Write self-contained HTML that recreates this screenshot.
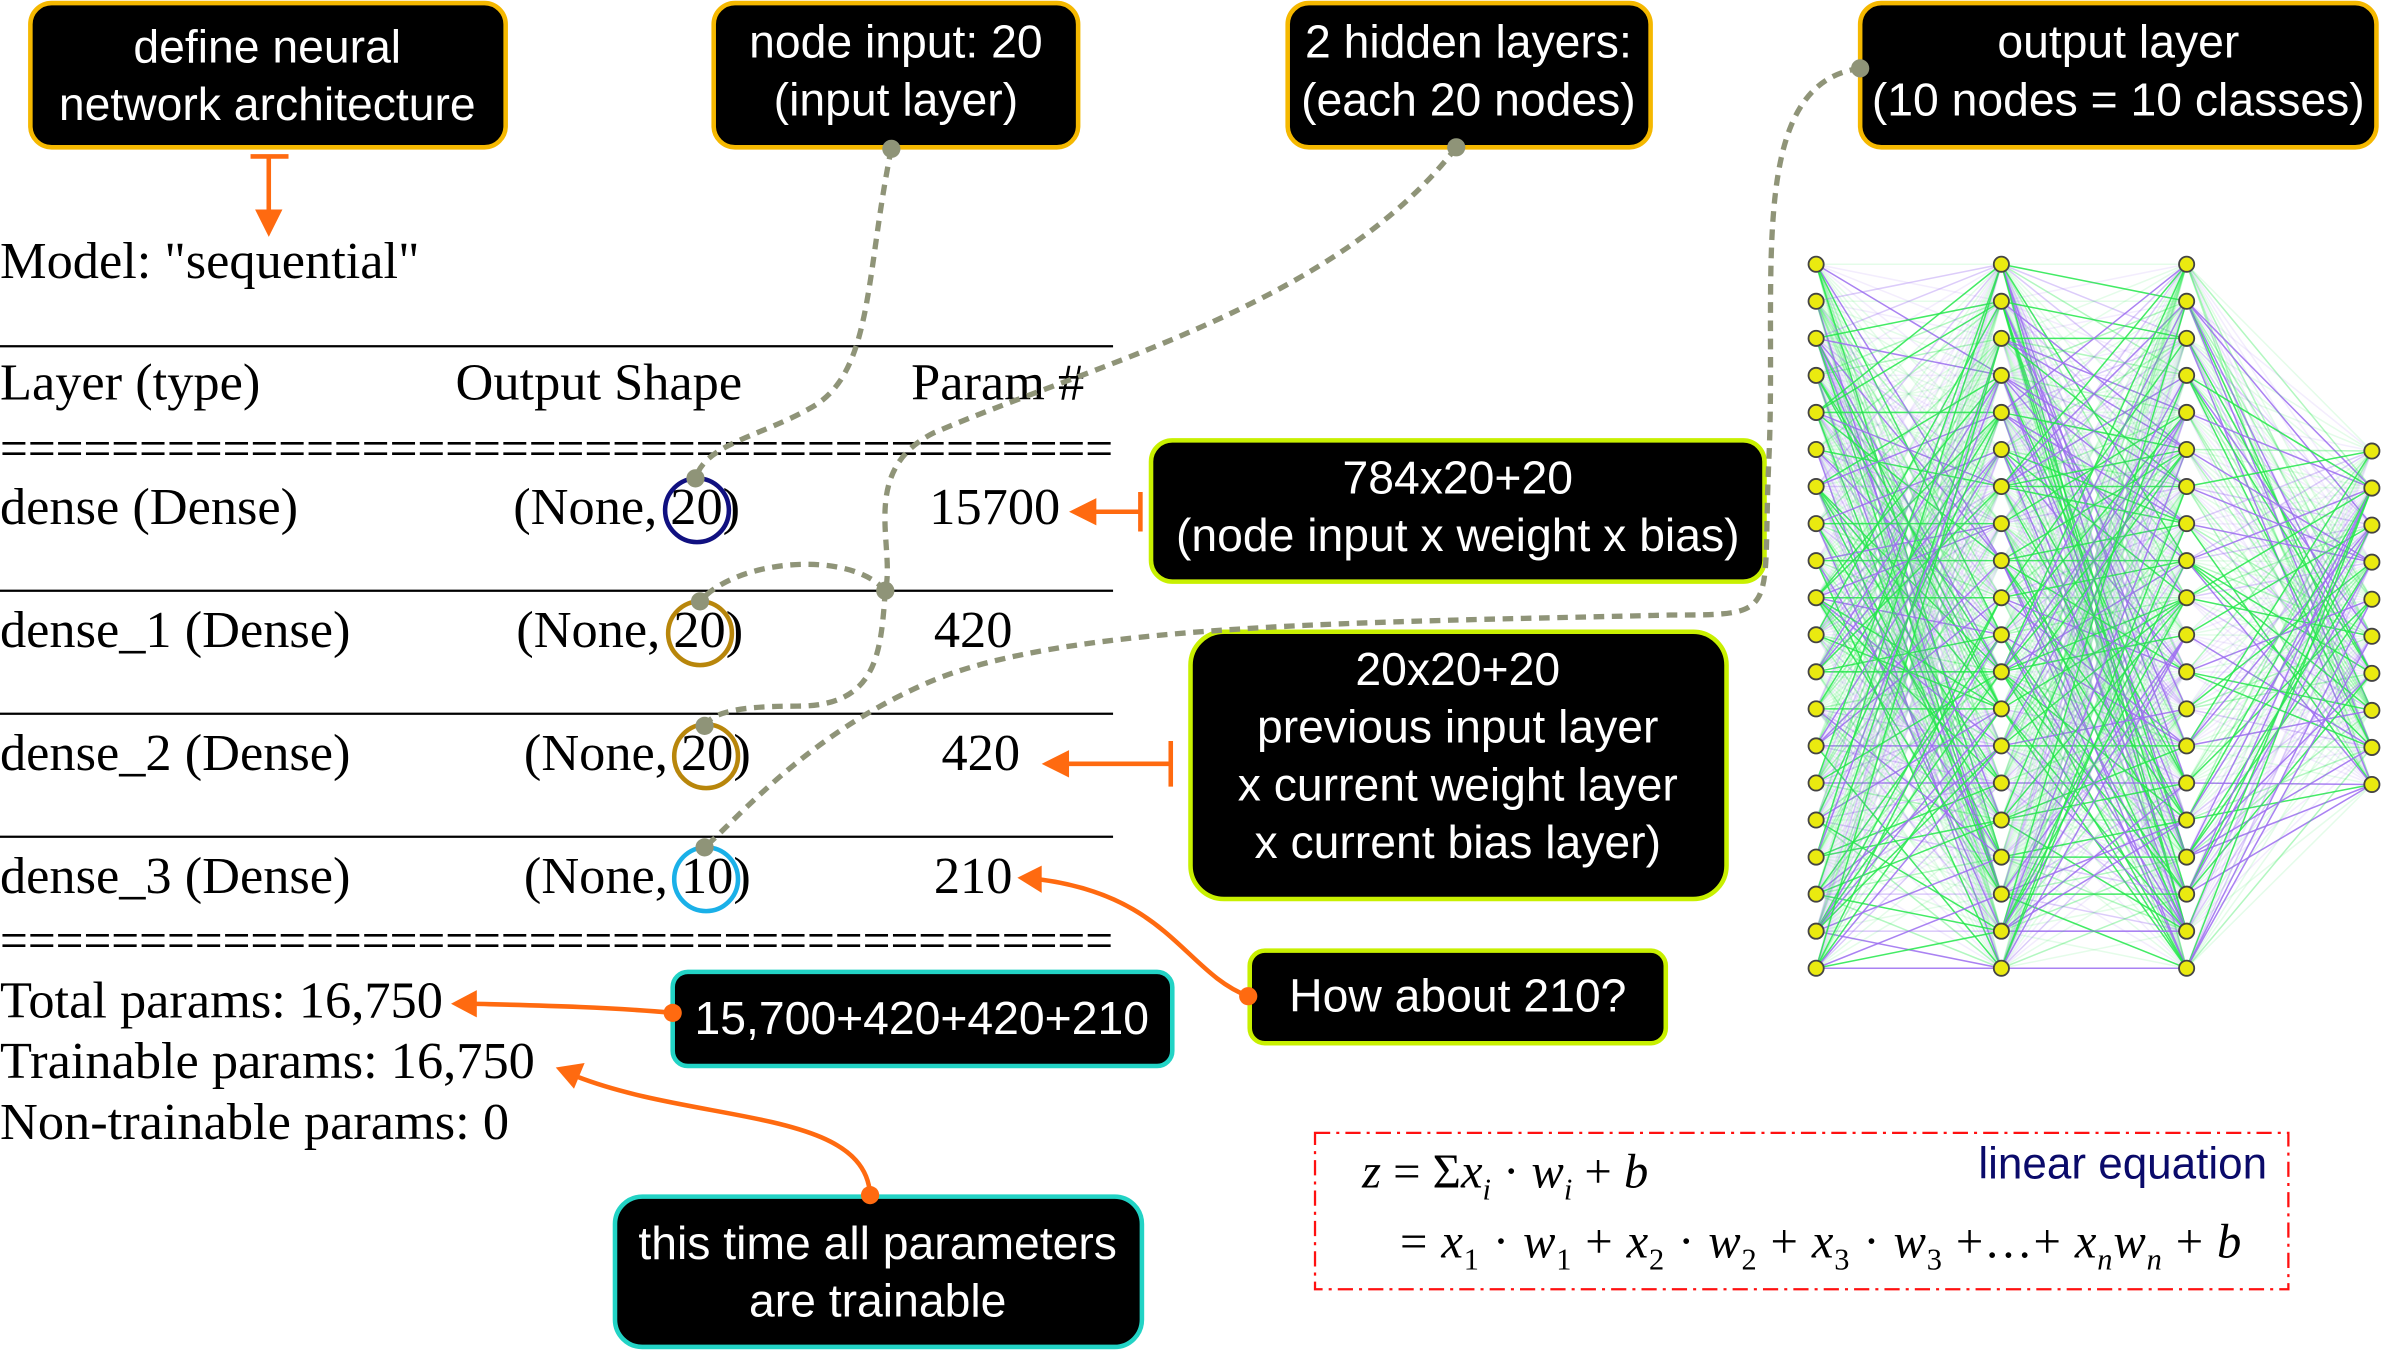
<!DOCTYPE html>
<html><head><meta charset="utf-8"><style>
html,body{margin:0;padding:0;background:#fff;width:2381px;height:1350px;overflow:hidden}
svg{display:block}
.tb{font-family:"Liberation Serif",serif;font-size:34.5px;fill:#000}
.cw{font-family:"Liberation Sans",sans-serif;font-size:30.5px;fill:#fff;text-anchor:middle}
.bx{fill:#000;stroke-width:3}
.dash{fill:none;stroke:#8f9478;stroke-width:3.5;stroke-dasharray:7 5}
.dot{fill:#8f9478}
.or{fill:none;stroke:#ff6a10;stroke-width:3}
.orf{fill:#ff6a10}
.eq{font-family:"Liberation Serif",serif;font-size:32px;font-style:italic;fill:#000}
</style></head><body>
<svg width="2381" height="1350" viewBox="0 0 1568 889" preserveAspectRatio="none" xmlns="http://www.w3.org/2000/svg">
<g id="edges"></g>
<g id="nodes"></g>

<rect class="bx" x="20" y="2" width="313" height="95" rx="14" stroke="#f5b800"/>
<text class="cw" x="176" y="41">define neural</text>
<text class="cw" x="176" y="79">network architecture</text>

<rect class="bx" x="470" y="2" width="240" height="95" rx="14" stroke="#f5b800"/>
<text class="cw" x="590" y="38">node input: 20</text>
<text class="cw" x="590" y="76">(input layer)</text>

<rect class="bx" x="848" y="2" width="239" height="95" rx="14" stroke="#f5b800"/>
<text class="cw" x="967" y="38">2 hidden layers:</text>
<text class="cw" x="967" y="76">(each 20 nodes)</text>

<rect class="bx" x="1225" y="2" width="340" height="95" rx="14" stroke="#f5b800"/>
<text class="cw" x="1395" y="38">output layer</text>
<text class="cw" x="1395" y="76">(10 nodes = 10 classes)</text>

<rect class="bx" x="758" y="290" width="404" height="93" rx="14" stroke="#c8f000"/>
<text class="cw" x="960" y="325">784x20+20</text>
<text class="cw" x="960" y="363">(node input x weight x bias)</text>

<rect class="bx" x="784" y="416" width="353" height="176" rx="22" stroke="#c8f000"/>
<text class="cw" x="960" y="451">20x20+20</text>
<text class="cw" x="960" y="489">previous input layer</text>
<text class="cw" x="960" y="527">x current weight layer</text>
<text class="cw" x="960" y="565">x current bias layer)</text>

<rect class="bx" x="823" y="626" width="274" height="61" rx="10" stroke="#c8f000"/>
<text class="cw" x="960" y="666">How about 210?</text>

<rect class="bx" x="443" y="640" width="329" height="62" rx="10" stroke="#22d3c5"/>
<text class="cw" x="607" y="681">15,700+420+420+210</text>

<rect class="bx" x="405" y="788" width="347" height="99" rx="18" stroke="#22d3c5"/>
<text class="cw" x="578" y="829">this time all parameters</text>
<text class="cw" x="578" y="867">are trainable</text>

<text class="tb" x="0" y="183">Model: "sequential"</text>
<line x1="0" y1="228" x2="733" y2="228" stroke="#000" stroke-width="1.5"/>
<text class="tb" x="0" y="263">Layer (type)</text>
<text class="tb" x="300" y="263">Output Shape</text>
<text class="tb" x="600" y="263">Param #</text>
<text class="tb" x="0" y="307" textLength="733" lengthAdjust="spacingAndGlyphs">========================================</text>
<text class="tb" x="0" y="345">dense (Dense)</text>
<text class="tb" x="338" y="345">(None, 20)</text>
<text class="tb" x="612" y="345">15700</text>
<line x1="0" y1="389" x2="733" y2="389" stroke="#000" stroke-width="1.5"/>
<text class="tb" x="0" y="426">dense_1 (Dense)</text>
<text class="tb" x="340" y="426">(None, 20)</text>
<text class="tb" x="615" y="426">420</text>
<line x1="0" y1="470" x2="733" y2="470" stroke="#000" stroke-width="1.5"/>
<text class="tb" x="0" y="507">dense_2 (Dense)</text>
<text class="tb" x="345" y="507">(None, 20)</text>
<text class="tb" x="620" y="507">420</text>
<line x1="0" y1="551" x2="733" y2="551" stroke="#000" stroke-width="1.5"/>
<text class="tb" x="0" y="588">dense_3 (Dense)</text>
<text class="tb" x="345" y="588">(None, 10)</text>
<text class="tb" x="615" y="588">210</text>
<text class="tb" x="0" y="631" textLength="733" lengthAdjust="spacingAndGlyphs">========================================</text>
<text class="tb" x="0" y="670">Total params: 16,750</text>
<text class="tb" x="0" y="710">Trainable params: 16,750</text>
<text class="tb" x="0" y="750">Non-trainable params: 0</text>

<circle cx="459" cy="336" r="21" fill="none" stroke="#101080" stroke-width="3"/>
<circle cx="461" cy="417" r="21" fill="none" stroke="#b8860b" stroke-width="3"/>
<circle cx="465" cy="498" r="21" fill="none" stroke="#b8860b" stroke-width="3"/>
<circle cx="465" cy="579" r="21" fill="none" stroke="#1ab0e8" stroke-width="3"/>

<path class="dash" d="M587,98 C570,180 575,245 535,268 C500,288 465,292 458,315"/>
<path class="dash" d="M959,97 C880,200 720,240 615,285 C565,310 590,360 583,389"/>
<path class="dash" d="M583,389 C560,362 485,368 461,396"/>
<path class="dash" d="M583,389 C580,430 578,465 525,465 C490,465 470,468 464,478"/>
<path class="dash" d="M1225,45 C1150,55 1170,180 1165,300 C1160,405 1175,405 1100,405 C900,410 700,410 610,450 C530,485 485,540 464,558"/>
<circle class="dot" cx="587" cy="98" r="6"/><circle class="dot" cx="458" cy="315" r="6"/>
<circle class="dot" cx="959" cy="97" r="6"/><circle class="dot" cx="583" cy="389" r="6"/>
<circle class="dot" cx="461" cy="396" r="6"/><circle class="dot" cx="464" cy="478" r="6"/>
<circle class="dot" cx="1225" cy="45" r="6"/><circle class="dot" cx="464" cy="558" r="6"/>

<line class="or" x1="165" y1="103" x2="190" y2="103"/>
<line class="or" x1="177" y1="103" x2="177" y2="142"/>
<polygon class="orf" points="168,138 186,138 177,156"/>

<line class="or" x1="751" y1="324" x2="751" y2="350"/>
<line class="or" x1="751" y1="337" x2="718" y2="337"/>
<polygon class="orf" points="722,328 722,346 704,337"/>

<line class="or" x1="771" y1="488" x2="771" y2="518"/>
<line class="or" x1="771" y1="503" x2="700" y2="503"/>
<polygon class="orf" points="704,494 704,512 686,503"/>

<path class="or" d="M822,656 C780,640 770,590 684,579"/>
<polygon class="orf" points="686,570 686,588 670,578"/>
<circle class="orf" cx="822" cy="656" r="6"/>

<path class="or" d="M443,667 C400,663 350,662 312,661"/>
<polygon class="orf" points="314,652 314,670 297,661"/>
<circle class="orf" cx="443" cy="667" r="6"/>

<path class="or" d="M573,787 C570,730 460,740 380,709"/>
<polygon class="orf" points="385,700 378,717 366,703"/>
<circle class="orf" cx="573" cy="787" r="6"/>

<rect x="866" y="746" width="641" height="103" fill="none" stroke="#ff1010" stroke-width="1.5" stroke-dasharray="10 4 2 4"/>
<text x="1493" y="776" text-anchor="end" style="font-family:'Liberation Sans',sans-serif;font-size:29px;fill:#0a0a6a">linear equation</text>
<text class="eq" x="897" y="782">z<tspan font-style="normal">  =  Σ</tspan>x<tspan font-size="20" dy="8">i</tspan><tspan dy="-8" font-style="normal"> · </tspan>w<tspan font-size="20" dy="8">i</tspan><tspan dy="-8" font-style="normal"> + </tspan>b</text>
<text class="eq" x="922" y="828" textLength="554" lengthAdjust="spacing"><tspan font-style="normal">= </tspan>x<tspan font-size="20" dy="8" font-style="normal">1</tspan><tspan dy="-8" font-style="normal"> · </tspan>w<tspan font-size="20" dy="8" font-style="normal">1</tspan><tspan dy="-8" font-style="normal"> + </tspan>x<tspan font-size="20" dy="8" font-style="normal">2</tspan><tspan dy="-8" font-style="normal"> · </tspan>w<tspan font-size="20" dy="8" font-style="normal">2</tspan><tspan dy="-8" font-style="normal"> + </tspan>x<tspan font-size="20" dy="8" font-style="normal">3</tspan><tspan dy="-8" font-style="normal"> · </tspan>w<tspan font-size="20" dy="8" font-style="normal">3</tspan><tspan dy="-8" font-style="normal"> +…+ </tspan>x<tspan font-size="20" dy="8">n</tspan><tspan dy="-8">w</tspan><tspan font-size="20" dy="8">n</tspan><tspan dy="-8" font-style="normal"> + </tspan>b</text>
</svg>
<script>
(function(){
var NS="http://www.w3.org/2000/svg";
var xs=[1196,1318,1440,1562];
function col(n,y0){var a=[];for(var i=0;i<n;i++)a.push(y0+i*24.4);return a;}
var L=[col(20,174),col(20,174),col(20,174),col(10,297)];
var s=12345;function r(){s=(s*1103515245+12345)&0x7fffffff;return s/0x7fffffff;}
var eg=document.getElementById("edges"),ng=document.getElementById("nodes");
for(var l=0;l<3;l++){for(var i=0;i<L[l].length;i++){for(var j=0;j<L[l+1].length;j++){
var v=r();var op=v<0.25?0.85:(v<0.5?0.35:0.12);
var e=document.createElementNS(NS,"line");
e.setAttribute("x1",xs[l]);e.setAttribute("y1",L[l][i]);e.setAttribute("x2",xs[l+1]);e.setAttribute("y2",L[l+1][j]);
e.setAttribute("stroke",r()<0.55?"#22e84a":"#9b6cf0");e.setAttribute("stroke-opacity",op);e.setAttribute("stroke-width","1");
eg.appendChild(e);}}}
for(var l=0;l<4;l++)for(var i=0;i<L[l].length;i++){var c=document.createElementNS(NS,"circle");
c.setAttribute("cx",xs[l]);c.setAttribute("cy",L[l][i]);c.setAttribute("r","5");c.setAttribute("fill","#eaea10");c.setAttribute("stroke","#444");c.setAttribute("stroke-width","1.2");ng.appendChild(c);}
})();
</script>
</body></html>
